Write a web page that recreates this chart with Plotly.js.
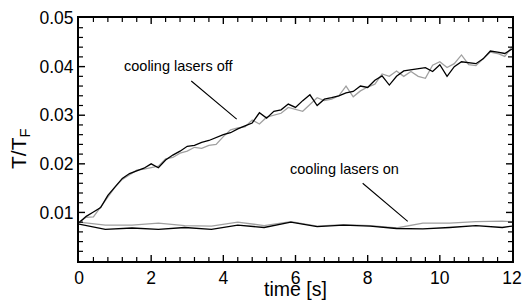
<!DOCTYPE html>
<html>
<head>
<meta charset="utf-8">
<script src="https://cdn.plot.ly/plotly-3.0.1.min.js"></script>
<style>html,body{margin:0;padding:0;background:#fff;}#chart{width:524px;height:301px;}</style>
</head>
<body>
<div id="chart"></div>
<script>
// time axis for the "cooling lasers off" runs (s)
const tOff = [0,0.2,0.4,0.6,0.8,1.0,1.2,1.4,1.6,1.8,2.0,2.2,2.4,2.6,2.8,3.0,3.2,3.4,3.6,3.8,4.0,4.2,4.4,4.6,4.8,5.0,5.2,5.4,5.6,5.8,6.0,6.2,6.4,6.6,6.8,7.0,7.2,7.4,7.6,7.8,8.0,8.2,8.4,8.6,8.8,9.0,9.2,9.4,9.6,9.8,10.0,10.2,10.4,10.6,10.8,11.0,11.2,11.4,11.6,11.8,12.0];
const offBlack = [0.0079,0.0092,0.0101,0.0110,0.0135,0.0152,0.0170,0.0180,0.0186,0.0191,0.0200,0.0192,0.0208,0.0218,0.0226,0.0236,0.0238,0.0244,0.0248,0.0254,0.0260,0.0264,0.0272,0.0278,0.0284,0.0305,0.0294,0.0308,0.0311,0.0323,0.0316,0.0330,0.0342,0.0320,0.0333,0.0336,0.0340,0.0346,0.0349,0.0360,0.0357,0.0372,0.0381,0.0362,0.0380,0.0391,0.0393,0.0395,0.0398,0.0390,0.0404,0.0380,0.0400,0.0410,0.0408,0.0406,0.0416,0.0432,0.0430,0.0427,0.0436];
const offGray = [0.0080,0.0090,0.0091,0.0112,0.0132,0.0152,0.0168,0.0178,0.0187,0.0189,0.0192,0.0195,0.0210,0.0213,0.0222,0.0226,0.0234,0.0232,0.0238,0.0240,0.0256,0.0270,0.0274,0.0276,0.0290,0.0282,0.0296,0.0300,0.0304,0.0316,0.0312,0.0308,0.0322,0.0336,0.0330,0.0333,0.0340,0.0360,0.0338,0.0350,0.0358,0.0364,0.0385,0.0380,0.0391,0.0380,0.0390,0.0380,0.0376,0.0403,0.0410,0.0398,0.0406,0.0424,0.0404,0.0402,0.0416,0.0430,0.0427,0.0421,0.0441];
// time axis for the "cooling lasers on" runs (s)
const tOn = [0,0.73,1.47,2.2,2.93,3.67,4.4,5.13,5.87,6.6,7.33,8.07,8.8,9.53,10.27,11.0,11.73,12.0];
const onBlack = [0.0076,0.0065,0.0068,0.0065,0.0069,0.0065,0.0074,0.0069,0.0080,0.0071,0.0074,0.0072,0.0067,0.0066,0.0069,0.0073,0.0069,0.0072];
const onGray = [0.0080,0.0074,0.0074,0.0078,0.0073,0.0072,0.0080,0.0073,0.0081,0.0072,0.0075,0.0073,0.0068,0.0078,0.0078,0.0081,0.0082,0.0081];
const xMajorStep = 2, xMinorStep = 0.4, xMax = 12;
const yMajorStep = 0.01, yMinorStep = 0.002, yMax = 0.05;

const FONT = 'Liberation Sans, Arial, Helvetica, sans-serif';
const gray = '#a0a0a0';
const traces = [
  {x: tOff, y: offGray, mode:'lines', line:{color:gray, width:1.3}},
  {x: tOff, y: offBlack, mode:'lines', line:{color:'#000', width:1.3}},
  {x: tOn, y: onGray, mode:'lines', line:{color:gray, width:1.3}},
  {x: tOn, y: onBlack, mode:'lines', line:{color:'#000', width:1.3}}
];

// Tick marks on all four frame edges, built from the axis step sizes
const shapes = [];
function tickShapesX(){
  const n = Math.round(xMax / xMinorStep);
  for (let i = 1; i < n; i++) {
    const v = i * xMinorStep;
    const len = (i % Math.round(xMajorStep / xMinorStep) === 0) ? 6 : 4;
    const w = len === 6 ? 1.4 : 1.2;
    shapes.push({type:'line', xref:'x', yref:'paper', ysizemode:'pixel', yanchor:0, x0:v, x1:v, y0:0, y1:len, line:{color:'#000', width:w}, layer:'above'});
    shapes.push({type:'line', xref:'x', yref:'paper', ysizemode:'pixel', yanchor:1, x0:v, x1:v, y0:0, y1:-len, line:{color:'#000', width:w}, layer:'above'});
  }
}
function tickShapesY(){
  const n = Math.round(yMax / yMinorStep);
  for (let i = 1; i < n; i++) {
    const v = i * yMinorStep;
    const len = (i % Math.round(yMajorStep / yMinorStep) === 0) ? 6 : 4;
    const w = len === 6 ? 1.4 : 1.2;
    shapes.push({type:'line', yref:'y', xref:'paper', xsizemode:'pixel', xanchor:0, y0:v, y1:v, x0:0, x1:len, line:{color:'#000', width:w}, layer:'above'});
    shapes.push({type:'line', yref:'y', xref:'paper', xsizemode:'pixel', xanchor:1, y0:v, y1:v, x0:0, x1:-len, line:{color:'#000', width:w}, layer:'above'});
  }
}
tickShapesX();
tickShapesY();

function axis(extra){
  return Object.assign({
    showline:true, linecolor:'#000', linewidth:2, mirror:true,
    ticks:'', showgrid:false, zeroline:false,
    tickfont:{family:FONT, size:17.5, color:'#000'}
  }, extra);
}
const layout = {
  width:524, height:301,
  margin:{l:79, r:12, t:18, b:40},
  paper_bgcolor:'#fff', plot_bgcolor:'#fff',
  showlegend:false,
  font:{family:FONT, color:'#000'},
  xaxis: axis({range:[0,xMax], tick0:0, dtick:xMajorStep, title:{text:''}}),
  yaxis: axis({range:[0.00001,yMax], tick0:0, dtick:yMajorStep, tickformat:'.2f', title:{text:''}}),
  shapes: shapes,
  annotations:[
    {x:-0.138, y:0.462, xref:'paper', yref:'paper', text:'T/T<sub>F</sub>', textangle:-90,
     showarrow:false, xanchor:'center', yanchor:'middle', font:{family:FONT, size:21, color:'#000'}},
    {x:0.5, y:-0.168, xref:'paper', yref:'paper', text:'time [s]', showarrow:false,
     xanchor:'center', yanchor:'bottom', font:{family:FONT, size:19.5, color:'#000'}},
    {x:2.77, y:0.0402, xref:'x', yref:'y', text:'cooling lasers off', showarrow:false,
     font:{family:FONT, size:14.5, color:'#000'}},
    {x:4.37, y:0.0292, ax:3.07, ay:0.0373, axref:'x', ayref:'y', xref:'x', yref:'y',
     text:'', showarrow:true, arrowhead:0, arrowwidth:1.1, arrowcolor:'#000', standoff:0, startstandoff:0},
    {x:7.37, y:0.0190, xref:'x', yref:'y', text:'cooling lasers on', showarrow:false,
     font:{family:FONT, size:14.5, color:'#000'}},
    {x:9.11, y:0.00817, ax:7.82, ay:0.01626, axref:'x', ayref:'y', xref:'x', yref:'y',
     text:'', showarrow:true, arrowhead:0, arrowwidth:1.1, arrowcolor:'#000', standoff:0, startstandoff:0}
  ]
};
Plotly.newPlot('chart', traces, layout, {displayModeBar:false});
</script>
</body>
</html>
